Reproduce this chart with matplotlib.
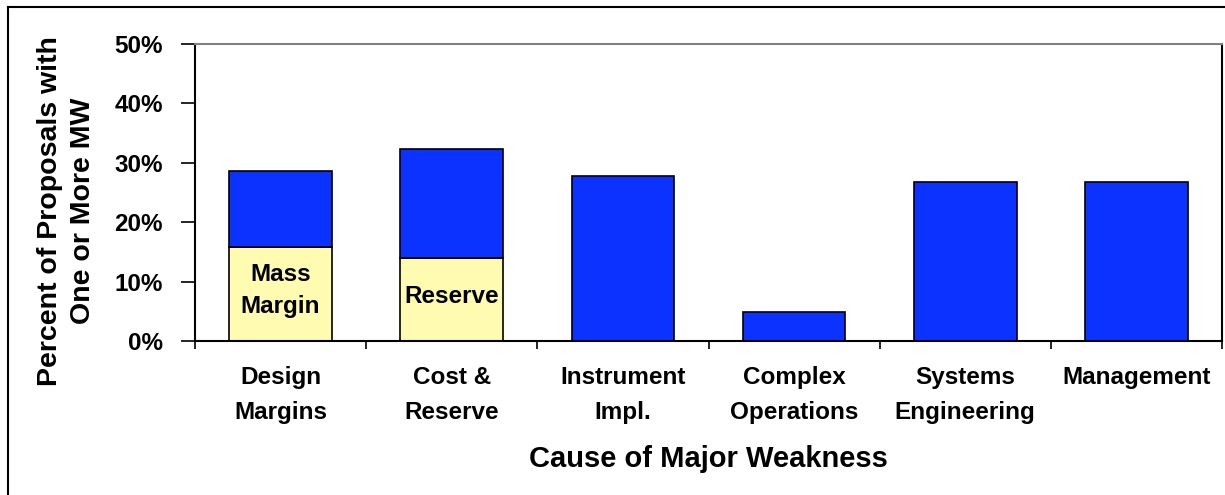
import matplotlib
matplotlib.use("Agg")
import matplotlib.pyplot as plt
from matplotlib.lines import Line2D
import numpy as np

plt.rcParams["font.family"] = ["Liberation Sans", "DejaVu Sans"]
plt.rcParams["font.weight"] = "bold"

# data (percent of proposals)
categories = ["Design\nMargins", "Cost &\nReserve", "Instrument\nImpl.",
              "Complex\nOperations", "Systems\nEngineering", "Management"]
total_pct = [28.7, 32.4, 27.7, 4.8, 26.7, 26.7]
sub_pct = [15.9, 13.9, 0, 0, 0, 0]
sub_labels = ["Mass\nMargin", "Reserve", "", "", "", ""]

blue = "#0c32ff"
yellow = "#fffbb0"

fig = plt.figure(figsize=(12.25, 4.95), dpi=100)
ax = fig.add_axes([195/1225, 1-341/495, (1222-195)/1225, (341-44)/495])

x = np.arange(len(categories))
rest = [t - s for t, s in zip(total_pct, sub_pct)]
ax.bar(x, sub_pct, width=0.6, color=yellow, edgecolor="black", linewidth=1.2)
ax.bar(x, rest, bottom=sub_pct, width=0.6, color=blue, edgecolor="black", linewidth=1.2)

for i, (s, lab) in enumerate(zip(sub_pct, sub_labels)):
    if lab:
        ax.text(x[i], s/2 + 0.5, lab, ha="center", va="center", fontsize=17.5,
                fontweight="bold", linespacing=1.5)

ax.set_xlim(-0.5, len(categories)-0.5)
ax.set_ylim(0, 50)
ax.set_yticks(range(0, 51, 10))
ax.set_yticklabels([f"{v}%" for v in range(0, 51, 10)], fontsize=17.5, fontweight="bold")
ax.tick_params(axis="y", length=10, width=1.2, pad=13)

ax.set_xticks(x)
ax.set_xticklabels(categories, fontsize=17.5, fontweight="bold", linespacing=1.65)
ax.set_xticks(np.arange(-0.5, len(categories), 1), minor=True)
ax.tick_params(axis="x", which="major", length=0, pad=18)
ax.tick_params(axis="x", which="minor", length=6, width=1.2)

ax.set_xlabel("Cause of Major Weakness", fontsize=21, fontweight="bold", labelpad=15)

for side in ["left", "bottom", "right"]:
    ax.spines[side].set_color("black")
    ax.spines[side].set_linewidth(1.5)
ax.spines["top"].set_color("#808080")
ax.spines["top"].set_linewidth(1.5)

fig.text(67/1225, 1-211/495, "Percent of Proposals with\nOne or More MW",
         rotation=90, ha="center", va="center", multialignment="center",
         fontsize=20.5, fontweight="bold", linespacing=1.35)

# outer frame
fig.add_artist(Line2D([8/1225, 8/1225], [1-7/495, 0], color="black", lw=1.5,
                      transform=fig.transFigure))
fig.add_artist(Line2D([8/1225, 1], [1-7/495, 1-7/495], color="black", lw=1.5,
                      transform=fig.transFigure))

fig.savefig("out.png", dpi=100)
